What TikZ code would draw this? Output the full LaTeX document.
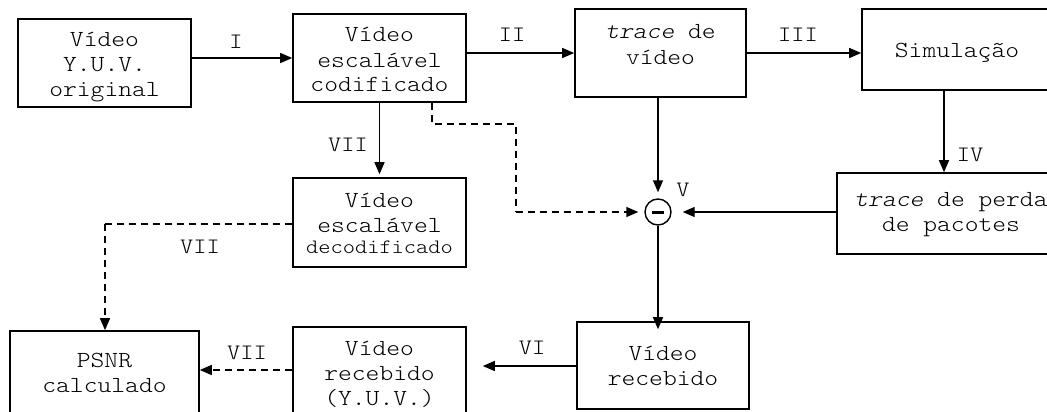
\documentclass[tikz,border=0pt]{standalone}
\usepackage{fontspec}
\setmonofont[FakeStretch=1.143]{Latin Modern Mono Light}
\usetikzlibrary{arrows.meta}
\newcommand\mlines[1]{\begin{tabular}[t]{@{}c@{}}#1\end{tabular}}
\tikzset{
  blk/.style={draw, line width=1.6pt, rectangle, inner sep=0pt},
  txt/.style={anchor=base, inner sep=0pt, font=\ttfamily\fontsize{23}{25}\selectfont},
  lbl/.style={font=\ttfamily\fontsize{22}{24}\selectfont, inner sep=0pt},
  arr/.style={line width=1.4pt, -{Triangle[length=12pt,width=10pt]}},
  darr/.style={arr, dash pattern=on 7pt off 5pt},
  dln/.style={line width=1.4pt, dash pattern=on 7pt off 5pt},
}
\begin{document}
\begin{tikzpicture}[x=1pt,y=-1pt]
\clip (0,0) rectangle (1047,412);
\fill[white] (0,0) rectangle (1047,412);
% boxes
\node[blk, minimum width=173pt, minimum height=88pt] (b1) at (104.5,63) {};
\node[blk, minimum width=173pt, minimum height=88pt] (b2) at (379.5,58) {};
\node[blk, minimum width=171pt, minimum height=88pt] (tr) at (660.5,53) {};
\node[blk, minimum width=190pt, minimum height=81pt] (sim) at (957,49.5) {};
\node[blk, minimum width=228pt, minimum height=81pt] (perda) at (951,213.5) {};
\node[blk, minimum width=173pt, minimum height=89pt] (b3) at (379.5,222.5) {};
\node[blk, minimum width=189pt, minimum height=83pt] (psnr) at (104.5,372.5) {};
\node[blk, minimum width=173pt, minimum height=92pt] (vy) at (379.5,373) {};
\node[blk, minimum width=172pt, minimum height=87pt] (vr) at (663,365.5) {};
\node[draw, circle, line width=1.4pt, minimum size=26pt, inner sep=0pt] (circ) at (658,212) {};
\fill (652,210.5) rectangle (664,214);
% texts
\node[txt] (t1) at (104.5,47) {\mlines{V\'ideo\\Y.U.V.\\original}};
\node[txt] (t2) at (379.5,42) {\mlines{V\'ideo\\escal\'avel\\codificado}};
\node[txt] (ttr) at (660.5,39) {\mlines{\textit{trace} de\\[1pt]v\'ideo}};
\node[txt] (tsim) at (957,58) {Simula\c{c}\~ao};
\node[txt] (tperda) at (951,206) {\mlines{\textit{trace} de perda\\de pacotes}};
\node[txt] (t3) at (379.5,207) {\mlines{V\'ideo\\escal\'avel\\[-4pt]{\fontsize{20.4}{22}\selectfont decodificado}}};
\node[txt] (tpsnr) at (104.5,367) {\mlines{PSNR\\calculado}};
\node[txt] (tvy) at (379.5,355) {\mlines{V\'ideo\\recebido\\(Y.U.V.)}};
\node[txt] (tvr) at (663,360) {\mlines{V\'ideo\\recebido}};
% bend coordinates
\coordinate (d1) at (432,124);
\coordinate (d2) at (516,124);
\coordinate (d3) at (516,212);
\coordinate (e1) at (105,224);
\coordinate (x4) at (944,0);
% connectors
\draw[arr] (b1.east |- b2) -- (b2.west);
\draw[arr] (b2.east |- tr) -- (tr.west);
\draw[arr] (tr.east) -- (sim.west |- tr);
\draw[arr] (sim.south -| x4) -- (perda.north -| x4);
\draw[arr, shorten >=6pt] (tr.south -| circ) -- (circ.north);
\draw[arr, shorten >=11pt] (perda.west |- circ) -- (circ.east);
\draw[dln] (b2.south -| d1) -- (d1) -- (d2) -- (d3);
\draw[darr, shorten >=6pt] (d3) -- (circ.west);
\draw[arr] (circ.south) -- ([yshift=-8pt]vr.north -| circ);
\draw[arr, shorten >=16pt] (vr.west |- 0,366) -- (vy.east |- 0,366);
\draw[arr, shorten >=3pt] (b2.south) -- (b3.north);
\draw[dln] (b3.west |- e1) -- (e1);
\draw[darr] (e1) -- (psnr.north -| e1);
\draw[darr] (vy.west |- 0,370) -- (psnr.east |- 0,370);
% labels
\node[lbl] (lI) at (236,42) {I};
\node[lbl] (lII) at (512,35) {II};
\node[lbl] (lIII) at (798,35) {III};
\node[lbl] (lIV) at (970,155) {IV};
\node[lbl] (lV) at (683,190) {V};
\node[lbl] (lVI) at (532,348) {VI};
\node[lbl] (lVIIa) at (348,145) {VII};
\node[lbl] (lVIIb) at (200,247) {VII};
\node[lbl] (lVIIc) at (247,353) {VII};
\end{tikzpicture}
\end{document}
